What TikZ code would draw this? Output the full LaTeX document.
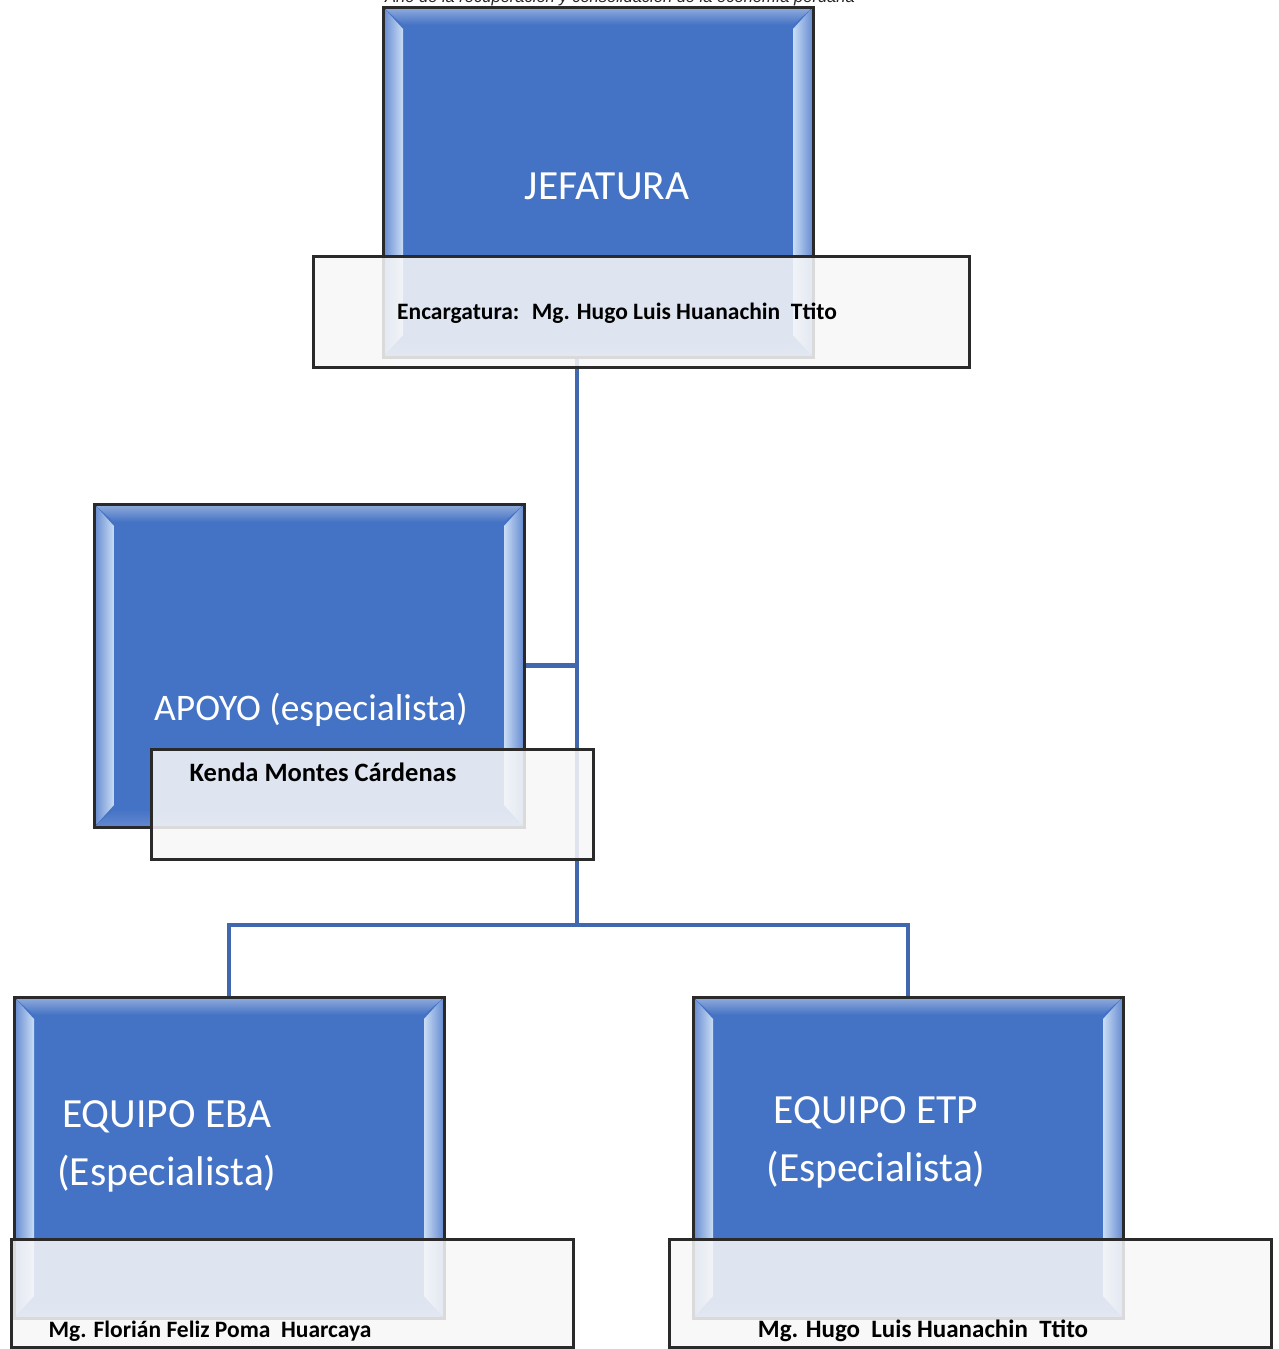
\documentclass[tikz,border=0pt]{standalone}
\usepackage{fontspec}
\setmainfont{Carlito}
\newfontfamily\headfont{Liberation Sans}
\usetikzlibrary{calc}
\definecolor{boxblue}{HTML}{4472C4}
\definecolor{linkblue}{HTML}{4167AE}
\definecolor{bevlight}{HTML}{C9DDF5}
\definecolor{bevmid}{HTML}{6489D0}
\definecolor{bevtop}{HTML}{93AEDD}
\definecolor{capfill}{HTML}{F8F8F8}
\definecolor{frame}{HTML}{2A2A2A}
\newcommand\bevelsides[1]{%
  \shade[top color=bevtop,bottom color=boxblue] (#1.north west) -- (#1.north east) -- ($(#1.north east)+(-20,18)$) -- ($(#1.north west)+(20,18)$) -- cycle;
  \shade[top color=boxblue,bottom color=bevmid] (#1.south west) -- (#1.south east) -- ($(#1.south east)+(-20,-18)$) -- ($(#1.south west)+(20,-18)$) -- cycle;
  \shade[left color=bevmid,right color=bevlight] (#1.north west) -- ($(#1.north west)+(20,22)$) -- ($(#1.south west)+(20,-22)$) -- (#1.south west) -- cycle;
  \shade[left color=bevlight,right color=bevmid] (#1.north east) -- ($(#1.north east)+(-20,22)$) -- ($(#1.south east)+(-20,-22)$) -- (#1.south east) -- cycle;
  \draw[frame, line width=3pt] (#1.north west) rectangle (#1.south east);
}
\begin{document}
\begin{tikzpicture}[x=1pt,y=-1pt,
  bluebox/.style={draw=frame,line width=3pt,fill=boxblue,anchor=north west,inner sep=0pt,minimum width=427pt},
  capbox/.style={draw=frame,line width=3pt,fill=capfill,fill opacity=0.86,anchor=north west,inner sep=0pt},
  titletext/.style={text=white,font=\fontsize{41.5}{58}\selectfont,align=center,inner sep=0pt},
  nametext/.style={text=black,font=\bfseries\fontsize{24}{28}\selectfont,inner sep=0pt},
  link/.style={draw=linkblue,line width=4.5pt}]
\useasboundingbox (0,0) rectangle (1278,1349);
\fill[white] (0,0) rectangle (1278,1349);

% heading cut by page edge, as in the reference
\node[anchor=base west,inner sep=0pt,font=\headfont\itshape\fontsize{16.5}{18}\selectfont,text=black!85] (head) at (385,2.5) {Año de la recuperación y consolidación de la economía peruana};

% blue boxes
\node[bluebox,minimum height=347pt] (jef) at (383,7) {};
\node[bluebox,minimum height=320pt] (apo) at (94,504) {};
\node[bluebox,minimum height=318pt] (eba) at (14,997) {};
\node[bluebox,minimum height=318pt] (etp) at (693,997) {};

% connectors
\coordinate (bar) at (577,925);
\draw[link] (jef.south -| bar) -- (bar);
\draw[link] (apo.east) -- (apo.east -| bar);
\draw[link,line width=4pt] (eba.north) |- (bar) -| (etp.north);

\bevelsides{jef}
\bevelsides{apo}
\bevelsides{eba}
\bevelsides{etp}

% titles
\node[titletext] (tjef) at (607,186) {JEFATURA};
\node[titletext,font=\fontsize{37.5}{44}\selectfont] (tapo) at (311,710) {APOYO (especialista)};
\node[titletext] (teba) at (167,1146) {EQUIPO EBA\\(Especialista)};
\node[titletext] (tetp) at (876,1142) {EQUIPO ETP\\(Especialista)};

% caption boxes
\node[capbox,minimum width=656pt,minimum height=111pt] (cjef) at (312,255) {};
\node[capbox,minimum width=442pt,minimum height=110pt] (capo) at (150,748) {};
\node[capbox,minimum width=562pt,minimum height=108pt] (ceba) at (10,1238) {};
\node[capbox,minimum width=602pt,minimum height=108pt] (cetp) at (668,1238) {};

% names
\node[nametext,font=\bfseries\fontsize{23.5}{28}\selectfont] (njef) at (617,313) {Encargatura: \ Mg. Hugo Luis Huanachin \ Ttito};
\node[nametext,font=\bfseries\fontsize{26.5}{30}\selectfont] (napo) at (323,772) {Kenda Montes Cárdenas};
\node[nametext,font=\bfseries\fontsize{23.5}{28}\selectfont] (neba) at (210,1331) {Mg. Florián Feliz Poma \ Huarcaya};
\node[nametext,font=\bfseries\fontsize{25}{28}\selectfont] (netp) at (923,1331) {Mg. Hugo \ Luis Huanachin \ Ttito};
\end{tikzpicture}
\end{document}
